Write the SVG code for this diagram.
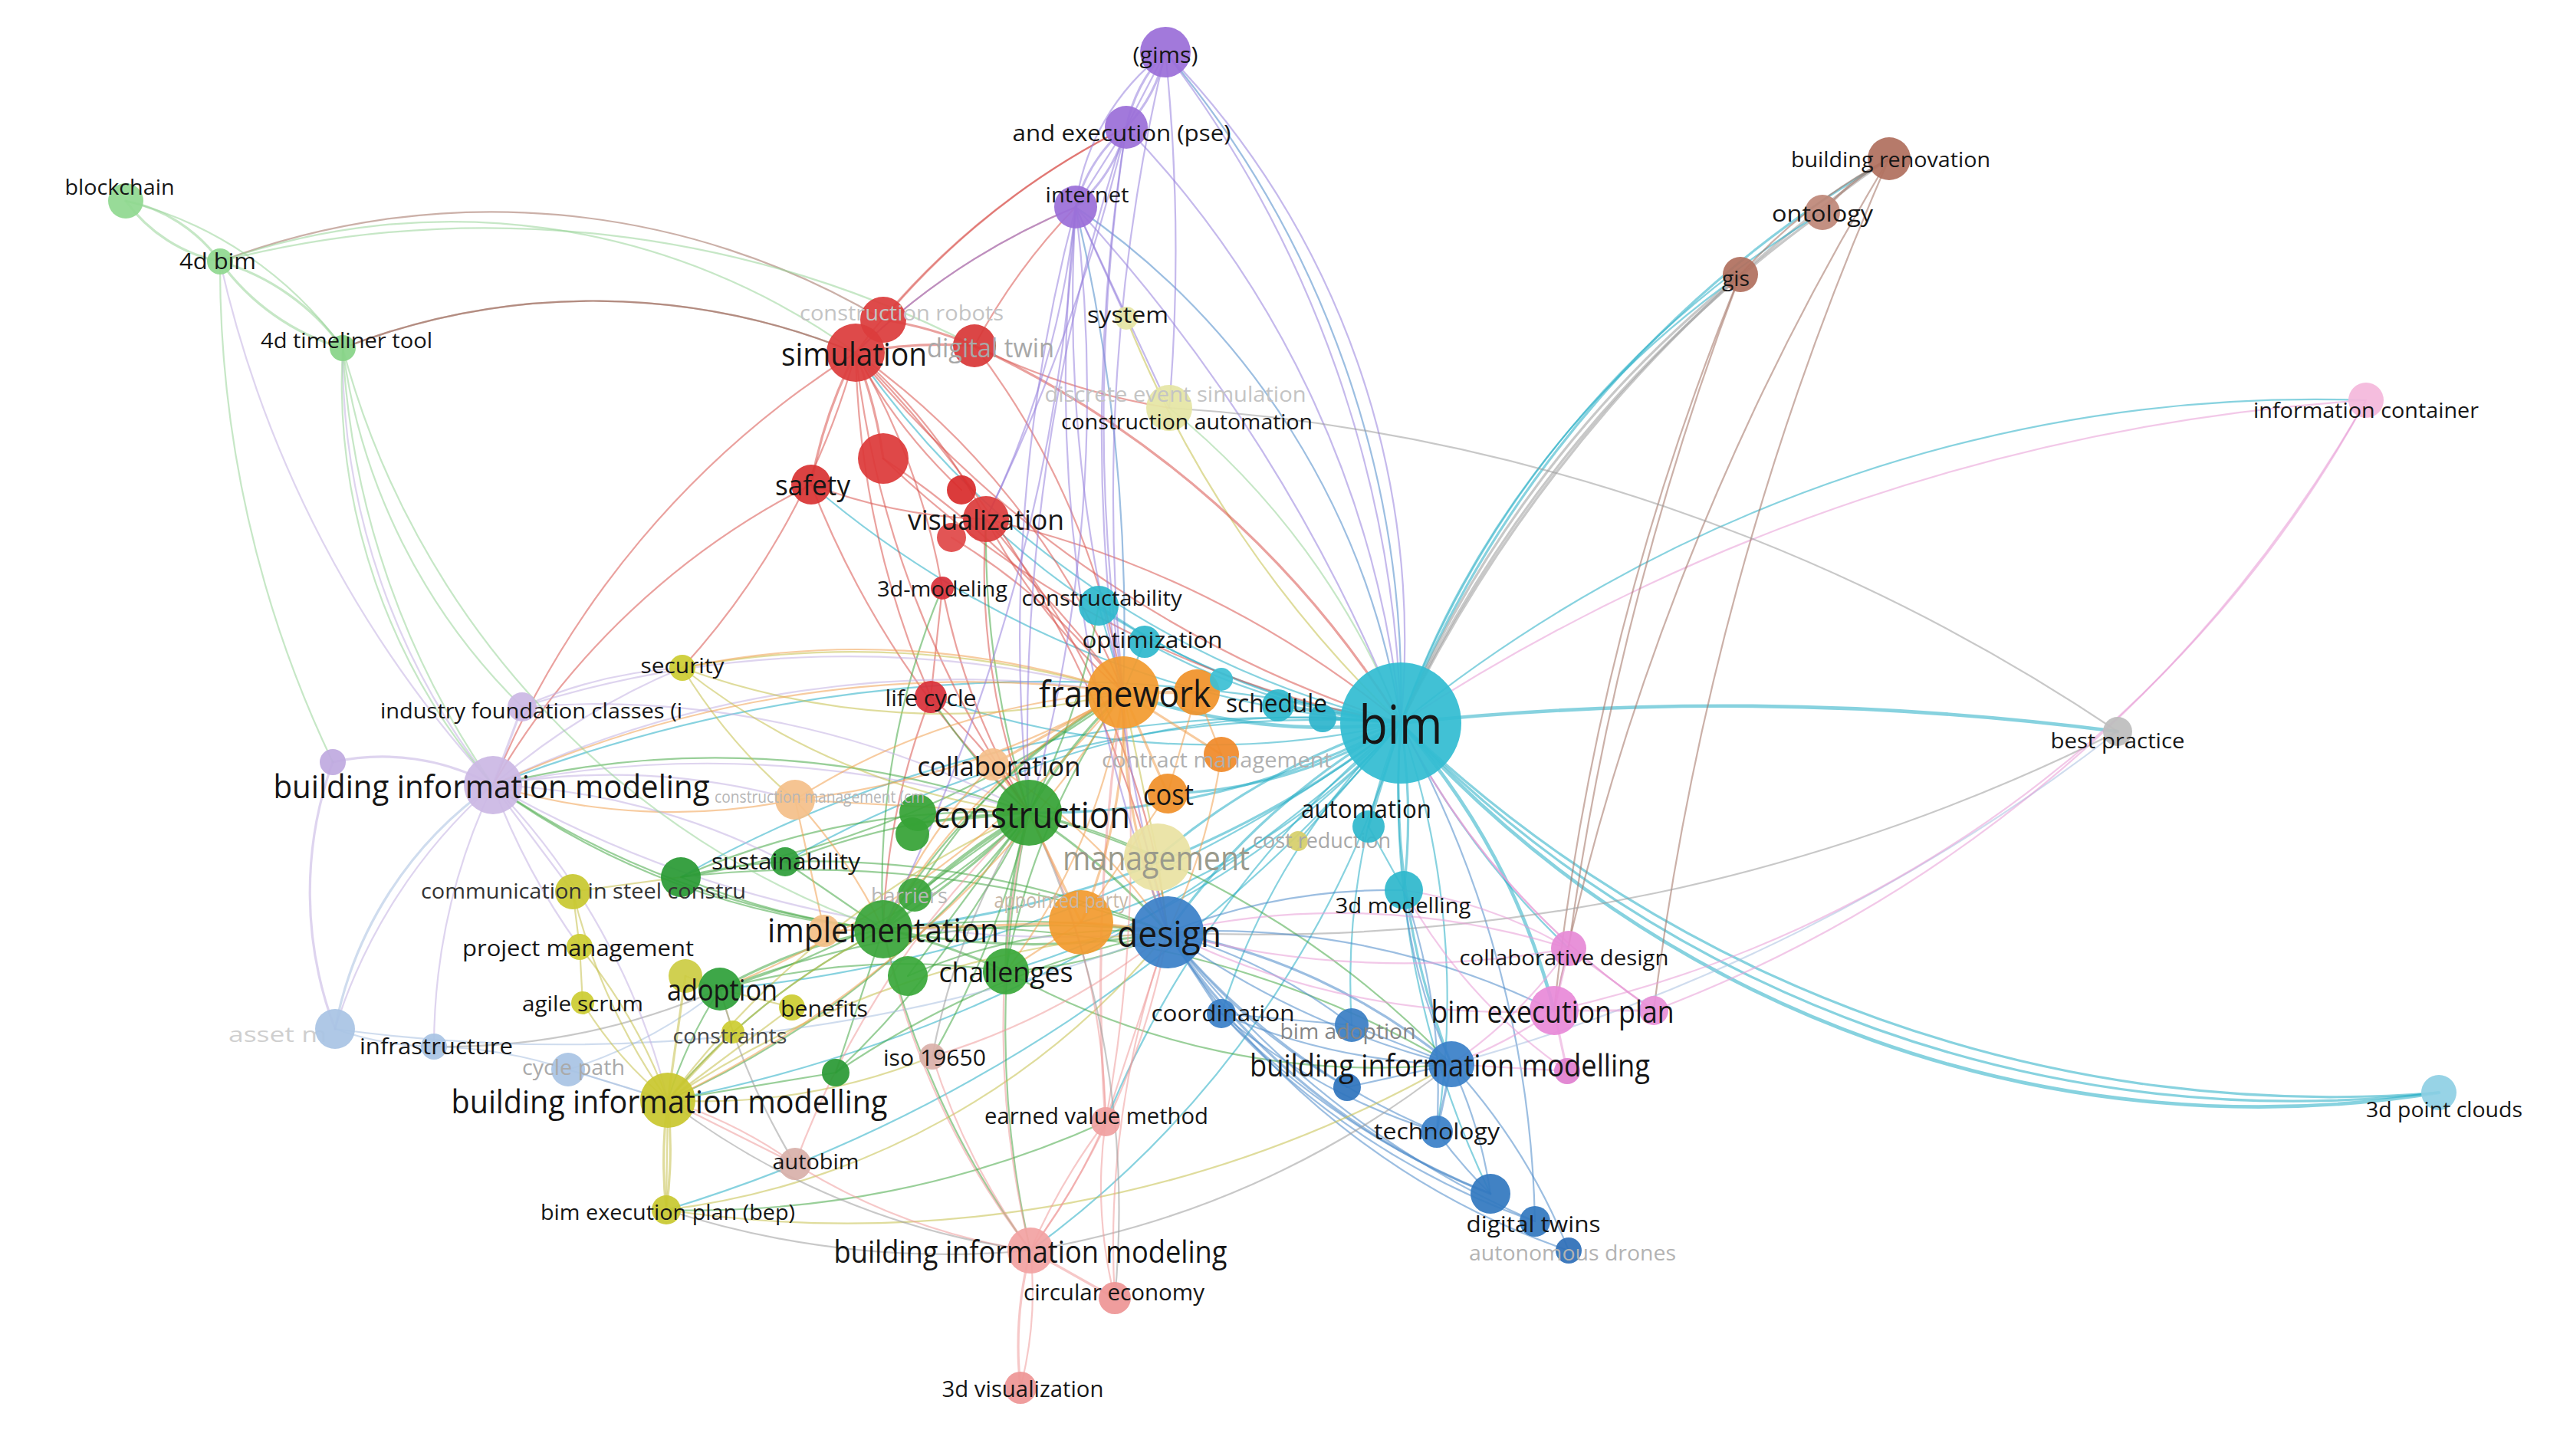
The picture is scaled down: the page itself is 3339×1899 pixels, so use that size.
<svg xmlns="http://www.w3.org/2000/svg" width="3339" height="1899" viewBox="0 0 3339 1899">
<style>
.e{fill:none;stroke-width:2.2;stroke-opacity:.55;stroke-linecap:round}
.w3{stroke-width:3.2}.w4{stroke-width:4.6}
.cy{stroke:#25adc4}.rd{stroke:#d9534f}.gr{stroke:#45a845}.pu{stroke:#9580dc}.bl{stroke:#4a88c8}.ye{stroke:#c4c04a}.or{stroke:#f0a050}.br{stroke:#a07060}.pk{stroke:#e79ad6}.lg{stroke:#98d498}.gy{stroke:#9a9a9a}.lb{stroke:#a8c0e0}.lp{stroke:#c2b0e2}.sa{stroke:#ee9a9a}
.t{font-family:"Open Sans","Noto Sans",sans-serif;text-anchor:middle;dominant-baseline:central;fill:#161616}
.f{fill:#b6b6b6}
circle{fill-opacity:.93}
</style>
<rect width="3339" height="1899" fill="#ffffff"/>
<g id="connectors">
<path class="e cy w3" d="M1827 943A1500 1500 0 0 1 2464 207"/>
<path class="e gy w3" d="M1827 943A1900 1900 0 0 1 2464 207"/>
<path class="e gy w3" d="M1827 943A1700 1700 0 0 1 2377 277"/>
<path class="e cy" d="M1827 943A1300 1300 0 0 1 2377 277"/>
<path class="e gy w3" d="M1827 943A1500 1500 0 0 1 2270 358"/>
<path class="e cy" d="M1827 943A1200 1200 0 0 1 2270 358"/>
<path class="e cy" d="M1827 943A1900 1900 0 0 1 3086 522"/>
<path class="e pk" d="M1827 943A2600 2600 0 0 1 3086 522"/>
<path class="e cy w4" d="M1827 943A4000 4000 0 0 1 2762 954"/>
<path class="e cy w4" d="M1827 943A1500 1500 0 0 0 3181 1425"/>
<path class="e cy w3" d="M1827 943A1620 1620 0 0 0 3181 1425"/>
<path class="e cy w3" d="M1827 943A1750 1750 0 0 0 3181 1425"/>
<path class="e pu" d="M1827 943A1100 1100 0 0 0 1520 68"/>
<path class="e bl" d="M1827 943A1300 1300 0 0 0 1520 68"/>
<path class="e pu" d="M1827 943A1500 1500 0 0 0 1520 68"/>
<path class="e pu" d="M1827 943A1300 1300 0 0 0 1469 166"/>
<path class="e bl" d="M1827 943A1000 1000 0 0 0 1403 270"/>
<path class="e pu" d="M1827 943A2200 2200 0 0 0 1403 270"/>
<path class="e cy" d="M1827 943A1200 1200 0 0 1 1116 460"/>
<path class="e rd" d="M1827 943A1500 1500 0 0 1 1116 460"/>
<path class="e lg" d="M1827 943A1000 1000 0 0 0 1525 532"/>
<path class="e ye" d="M1827 943A1500 1500 0 0 1 1469 415"/>
<path class="e cy w4" d="M1827 943A800 800 0 0 1 1465 903"/>
<path class="e cy w3" d="M1827 943A1000 1000 0 0 1 1342 1060"/>
<path class="e cy w3" d="M1827 943A900 900 0 0 0 1523 1216"/>
<path class="e cy w3" d="M1827 943A1300 1300 0 0 1 1152 1212"/>
<path class="e cy" d="M1827 943A2000 2000 0 0 0 643 1024"/>
<path class="e cy" d="M1827 943A1700 1700 0 0 1 939 1290"/>
<path class="e cy" d="M1827 943A1900 1900 0 0 1 871 1435"/>
<path class="e cy w3" d="M1827 943A900 900 0 0 0 1510 1118"/>
<path class="e cy" d="M1827 943A1100 1100 0 0 1 1312 1267"/>
<path class="e cy w3" d="M1827 943A600 600 0 0 1 1523 1035"/>
<path class="e cy w4" d="M1827 943L1667 920"/>
<path class="e cy w3" d="M1827 943L1725 937"/>
<path class="e cy w3" d="M1827 943L1785 1078"/>
<path class="e cy w3" d="M1827 943A800 800 0 0 1 1831 1161"/>
<path class="e cy w4" d="M1827 943A900 900 0 0 1 2027 1318"/>
<path class="e cy" d="M1827 943A1100 1100 0 0 0 2046 1237"/>
<path class="e cy w3" d="M1827 943A1000 1000 0 0 0 1893 1388"/>
<path class="e cy" d="M1827 943A1200 1200 0 0 0 1944 1557"/>
<path class="e cy" d="M1827 943A1100 1100 0 0 1 1874 1476"/>
<path class="e cy" d="M1827 943A900 900 0 0 0 1593 1322"/>
<path class="e cy" d="M1827 943A900 900 0 0 1 1433 790"/>
<path class="e cy" d="M1827 943A900 900 0 0 1 1493 837"/>
<path class="e cy" d="M1827 943A1000 1000 0 0 1 1286 677"/>
<path class="e cy" d="M1827 943A1300 1300 0 0 1 1344 1631"/>
<path class="e cy" d="M1827 943A1300 1300 0 0 0 1442 1463"/>
<path class="e cy" d="M1827 943A900 900 0 0 0 1763 1337"/>
<path class="e cy" d="M1827 943L1693 1097"/>
<path class="e cy" d="M1827 943A900 900 0 0 1 1410 1203"/>
<path class="e cy" d="M1827 943A1300 1300 0 0 1 1058 632"/>
<path class="e cy" d="M1827 943A1100 1100 0 0 1 1214 909"/>
<path class="e cy" d="M1827 943A1400 1400 0 0 0 1024 1124"/>
<path class="e cy" d="M1827 943A1600 1600 0 0 0 888 1144"/>
<path class="e cy" d="M1827 943A2000 2000 0 0 1 869 1578"/>
<path class="e rd" d="M1827 943A1300 1300 0 0 1 1152 598"/>
<path class="e pk" d="M1827 943A1000 1000 0 0 0 2157 1318"/>
<path class="e bl" d="M1827 943A1400 1400 0 0 1 2002 1593"/>
<path class="e cy" d="M1197 1073A1000 1000 0 0 1 1827 943"/>
<path class="e br w3" d="M2464 207A300 300 0 0 0 2377 277"/>
<path class="e br" d="M2464 207A700 700 0 0 0 2270 358"/>
<path class="e br" d="M2464 207A4000 4000 0 0 0 2157 1318"/>
<path class="e br" d="M2464 207A3500 3500 0 0 0 2027 1318"/>
<path class="e br" d="M2270 358A4000 4000 0 0 0 2046 1237"/>
<path class="e br" d="M2270 358A3500 3500 0 0 0 2027 1318"/>
<path class="e gy" d="M2762 954A2500 2500 0 0 0 1525 532"/>
<path class="e gy" d="M2762 954A2500 2500 0 0 1 1523 1216"/>
<path class="e lb" d="M2762 954A2500 2500 0 0 1 1893 1388"/>
<path class="e pk" d="M3086 522A1600 1600 0 0 1 2027 1318"/>
<path class="e pk" d="M3086 522A1800 1800 0 0 1 2157 1318"/>
<path class="e rd w3" d="M1116 460A600 600 0 0 0 1058 632"/>
<path class="e rd w3" d="M1116 460A600 600 0 0 1 1152 598"/>
<path class="e rd" d="M1116 460A700 700 0 0 1 1286 677"/>
<path class="e rd" d="M1116 460A700 700 0 0 0 1254 639"/>
<path class="e rd" d="M1116 460A1200 1200 0 0 0 1214 909"/>
<path class="e rd" d="M1116 460A900 900 0 0 1 1229 767"/>
<path class="e rd w3" d="M1116 460A600 600 0 0 1 1271 451"/>
<path class="e rd w3" d="M1152 417A500 500 0 0 1 1271 451"/>
<path class="e rd" d="M1116 460A1300 1300 0 0 0 1342 1060"/>
<path class="e rd" d="M1116 460A1500 1500 0 0 1 1523 1216"/>
<path class="e rd" d="M1116 460A1000 1000 0 0 1 1465 903"/>
<path class="e rd" d="M1116 460A1200 1200 0 0 0 643 1024"/>
<path class="e rd" d="M1116 460A1000 1000 0 0 1 890 871"/>
<path class="e rd" d="M1116 460A900 900 0 0 1 1403 270"/>
<path class="e rd" d="M1116 460A1000 1000 0 0 1 1469 166"/>
<path class="e rd" d="M1271 451A800 800 0 0 1 1403 270"/>
<path class="e rd" d="M1271 451A900 900 0 0 0 1525 532"/>
<path class="e rd" d="M1271 451A1000 1000 0 0 1 1465 903"/>
<path class="e rd w3" d="M1271 451A1300 1300 0 0 1 1827 943"/>
<path class="e rd" d="M1152 417A1000 1000 0 0 1 1469 166"/>
<path class="e rd" d="M1058 632A700 700 0 0 0 1286 677"/>
<path class="e rd" d="M1058 632A1000 1000 0 0 0 643 1024"/>
<path class="e rd" d="M1058 632A1200 1200 0 0 0 1342 1060"/>
<path class="e rd" d="M1152 598A1200 1200 0 0 1 1465 903"/>
<path class="e rd" d="M1286 677A800 800 0 0 0 1465 903"/>
<path class="e rd" d="M1286 677A900 900 0 0 0 1342 1060"/>
<path class="e rd" d="M1286 677A1300 1300 0 0 1 1827 943"/>
<path class="e rd" d="M1286 677A1000 1000 0 0 1 1523 1216"/>
<path class="e rd" d="M1229 767A900 900 0 0 0 1342 1060"/>
<path class="e rd" d="M1229 767L1214 909"/>
<path class="e rd" d="M1214 909A700 700 0 0 1 1342 1060"/>
<path class="e rd" d="M1214 909A900 900 0 0 0 1152 1212"/>
<path class="e rd" d="M1241 701A800 800 0 0 1 1465 903"/>
<path class="e br" d="M1116 460A900 900 0 0 0 447 454"/>
<path class="e br" d="M1152 417A1000 1000 0 0 0 287 341"/>
<path class="e lg" d="M1271 451A1400 1400 0 0 0 287 341"/>
<path class="e gr w4" d="M1342 1060A800 800 0 0 0 1152 1212"/>
<path class="e gr w3" d="M1342 1060A1100 1100 0 0 1 1152 1212"/>
<path class="e gr w3" d="M1342 1060A900 900 0 0 1 1523 1216"/>
<path class="e gr w3" d="M1342 1060A700 700 0 0 0 1312 1267"/>
<path class="e gr" d="M1342 1060A1000 1000 0 0 1 939 1290"/>
<path class="e gr w3" d="M1342 1060A700 700 0 0 1 1465 903"/>
<path class="e gr" d="M1342 1060A900 900 0 0 0 1024 1124"/>
<path class="e gr" d="M1342 1060A1200 1200 0 0 0 643 1024"/>
<path class="e gr" d="M1342 1060A1200 1200 0 0 1 871 1435"/>
<path class="e gr" d="M1342 1060A700 700 0 0 1 1214 909"/>
<path class="e gr" d="M1342 1060A1000 1000 0 0 0 888 1144"/>
<path class="e gr" d="M1342 1060A800 800 0 0 1 1510 1118"/>
<path class="e gr" d="M1342 1060A1200 1200 0 0 1 1893 1388"/>
<path class="e gr" d="M1342 1060A1300 1300 0 0 0 1344 1631"/>
<path class="e gr w3" d="M1342 1060L1197 1073"/>
<path class="e gr" d="M1342 1060L1193 1167"/>
<path class="e gr" d="M1342 1060L1184 1273"/>
<path class="e gr" d="M1342 1060A1200 1200 0 0 1 1216 1378"/>
<path class="e gr" d="M1342 1060A900 900 0 0 0 1433 790"/>
<path class="e gr" d="M1342 1060A1200 1200 0 0 1 1286 677"/>
<path class="e gr w3" d="M1152 1212A800 800 0 0 1 1312 1267"/>
<path class="e gr w3" d="M1152 1212A700 700 0 0 0 939 1290"/>
<path class="e gr w3" d="M1152 1212A1000 1000 0 0 0 1523 1216"/>
<path class="e gr" d="M1152 1212A1400 1400 0 0 1 1523 1216"/>
<path class="e gr" d="M1152 1212A1000 1000 0 0 1 643 1024"/>
<path class="e gr" d="M1152 1212A900 900 0 0 0 871 1435"/>
<path class="e gr" d="M1152 1212L1024 1124"/>
<path class="e gr" d="M1152 1212A900 900 0 0 1 888 1144"/>
<path class="e gr" d="M1152 1212A900 900 0 0 1 1465 903"/>
<path class="e gr" d="M1152 1212A1300 1300 0 0 1 1893 1388"/>
<path class="e gr" d="M1152 1212L1090 1399"/>
<path class="e gr" d="M1152 1212A1100 1100 0 0 0 1344 1631"/>
<path class="e gr" d="M939 1290A600 600 0 0 0 871 1435"/>
<path class="e gr" d="M939 1290A1200 1200 0 0 1 1523 1216"/>
<path class="e gr" d="M939 1290A900 900 0 0 1 1312 1267"/>
<path class="e gr" d="M1312 1267A600 600 0 0 0 1523 1216"/>
<path class="e gr" d="M1312 1267A900 900 0 0 1 1465 903"/>
<path class="e gr" d="M1312 1267A1000 1000 0 0 0 1893 1388"/>
<path class="e gr" d="M1024 1124A700 700 0 0 0 888 1144"/>
<path class="e gr" d="M1024 1124A1200 1200 0 0 1 1523 1216"/>
<path class="e gr" d="M888 1144A1400 1400 0 0 1 1523 1216"/>
<path class="e gr" d="M888 1144A1300 1300 0 0 0 1465 903"/>
<path class="e gr" d="M1090 1399A1200 1200 0 0 1 1523 1216"/>
<path class="e gr" d="M1090 1399A1200 1200 0 0 0 1342 1060"/>
<path class="e gr" d="M1184 1273A700 700 0 0 1 1523 1216"/>
<path class="e gr" d="M1193 1167A700 700 0 0 1 1465 903"/>
<path class="e gr" d="M1229 767A1000 1000 0 0 0 1152 1212"/>
<path class="e bl w3" d="M1523 1216A800 800 0 0 1 1893 1388"/>
<path class="e bl" d="M1523 1216A1100 1100 0 0 0 1893 1388"/>
<path class="e bl" d="M1523 1216A900 900 0 0 0 1874 1476"/>
<path class="e bl w3" d="M1523 1216A900 900 0 0 0 1944 1557"/>
<path class="e bl" d="M1523 1216A1200 1200 0 0 0 2002 1593"/>
<path class="e bl" d="M1523 1216A1000 1000 0 0 0 2046 1631"/>
<path class="e bl w3" d="M1523 1216L1593 1322"/>
<path class="e bl" d="M1523 1216A700 700 0 0 1 1763 1337"/>
<path class="e bl" d="M1523 1216A800 800 0 0 1 1831 1161"/>
<path class="e bl" d="M1523 1216A1000 1000 0 0 1 2027 1318"/>
<path class="e pk" d="M1523 1216A1000 1000 0 0 1 2046 1237"/>
<path class="e bl" d="M1523 1216A800 800 0 0 0 1757 1418"/>
<path class="e or w3" d="M1523 1216A800 800 0 0 1 1465 903"/>
<path class="e ye" d="M1523 1216L1510 1118"/>
<path class="e or w3" d="M1523 1216L1410 1203"/>
<path class="e bl w3" d="M1893 1388L1874 1476"/>
<path class="e bl" d="M1893 1388A600 600 0 0 1 1944 1557"/>
<path class="e bl" d="M1893 1388A800 800 0 0 1 2046 1631"/>
<path class="e bl" d="M1893 1388L1763 1337"/>
<path class="e pk" d="M1893 1388A600 600 0 0 0 2027 1318"/>
<path class="e pk" d="M1893 1388A600 600 0 0 0 2046 1237"/>
<path class="e bl" d="M1893 1388A700 700 0 0 1 1831 1161"/>
<path class="e bl" d="M1893 1388L1757 1418"/>
<path class="e bl" d="M1893 1388A800 800 0 0 1 1593 1322"/>
<path class="e bl" d="M1874 1476A600 600 0 0 0 1944 1557"/>
<path class="e bl" d="M1874 1476A800 800 0 0 1 1593 1322"/>
<path class="e bl" d="M1593 1322A1000 1000 0 0 0 1944 1557"/>
<path class="e bl" d="M1593 1322A1000 1000 0 0 0 2002 1593"/>
<path class="e bl" d="M1593 1322L1763 1337"/>
<path class="e bl" d="M1831 1161A800 800 0 0 1 1874 1476"/>
<path class="e cy" d="M1831 1161L1785 1078"/>
<path class="e pk" d="M1831 1161A700 700 0 0 0 2044 1397"/>
<path class="e lb w3" d="M437 1342A500 500 0 0 1 643 1024"/>
<path class="e lp" d="M437 1342A700 700 0 0 1 643 1024"/>
<path class="e lb" d="M437 1342A400 400 0 0 0 566 1365"/>
<path class="e lp" d="M566 1365A800 800 0 0 1 643 1024"/>
<path class="e lp w3" d="M434 994A500 500 0 0 0 437 1342"/>
<path class="e lp w3" d="M434 994A300 300 0 0 1 643 1024"/>
<path class="e lb" d="M566 1365A600 600 0 0 1 741 1395"/>
<path class="e lb" d="M741 1395A600 600 0 0 0 939 1290"/>
<path class="e gy" d="M566 1365A900 900 0 0 0 939 1290"/>
<path class="e lb" d="M741 1395L871 1435"/>
<path class="e lb" d="M437 1342A2200 2200 0 0 0 1523 1216"/>
<path class="e lp w3" d="M643 1024L681 922"/>
<path class="e lp" d="M643 1024A900 900 0 0 1 447 454"/>
<path class="e lg" d="M643 1024A1100 1100 0 0 1 447 454"/>
<path class="e lp" d="M643 1024A1500 1500 0 0 1 287 341"/>
<path class="e lg" d="M287 341A1500 1500 0 0 0 434 994"/>
<path class="e lp" d="M643 1024A900 900 0 0 1 890 871"/>
<path class="e or" d="M643 1024A800 800 0 0 0 1037 1043"/>
<path class="e lp" d="M643 1024A900 900 0 0 1 1037 1043"/>
<path class="e lp" d="M643 1024A1400 1400 0 0 1 1465 903"/>
<path class="e lp" d="M643 1024A1400 1400 0 0 1 1342 1060"/>
<path class="e gr" d="M643 1024A1100 1100 0 0 0 1152 1212"/>
<path class="e lp" d="M643 1024L747 1163"/>
<path class="e lp" d="M643 1024A900 900 0 0 0 756 1235"/>
<path class="e lp" d="M643 1024A900 900 0 0 1 871 1435"/>
<path class="e lp" d="M643 1024A900 900 0 0 1 1024 1124"/>
<path class="e lp" d="M643 1024A1500 1500 0 0 0 1523 1216"/>
<path class="e lp" d="M681 922A600 600 0 0 1 890 871"/>
<path class="e lg" d="M681 922A800 800 0 0 1 447 454"/>
<path class="e lp" d="M681 922A1200 1200 0 0 1 1342 1060"/>
<path class="e lp" d="M681 922A1400 1400 0 0 1 1465 903"/>
<path class="e ye w3" d="M871 1435A600 600 0 0 0 869 1578"/>
<path class="e ye w3" d="M871 1435A600 600 0 0 1 869 1578"/>
<path class="e ye" d="M871 1435L869 1578"/>
<path class="e sa" d="M871 1435A600 600 0 0 1 1037 1518"/>
<path class="e ye w3" d="M871 1435L894 1273"/>
<path class="e ye" d="M871 1435A500 500 0 0 1 760 1308"/>
<path class="e ye" d="M871 1435A700 700 0 0 0 756 1235"/>
<path class="e ye" d="M871 1435A800 800 0 0 1 747 1163"/>
<path class="e ye" d="M871 1435L956 1346"/>
<path class="e ye" d="M871 1435L1033 1314"/>
<path class="e ye" d="M871 1435A900 900 0 0 1 1152 1212"/>
<path class="e ye" d="M871 1435A1200 1200 0 0 1 1342 1060"/>
<path class="e ye" d="M871 1435A1300 1300 0 0 1 1523 1216"/>
<path class="e lb" d="M871 1435L741 1395"/>
<path class="e ye" d="M871 1435A800 800 0 0 0 1216 1378"/>
<path class="e gr" d="M871 1435L1090 1399"/>
<path class="e ye" d="M760 1308L756 1235"/>
<path class="e ye" d="M756 1235L747 1163"/>
<path class="e ye" d="M747 1163L888 1144"/>
<path class="e ye" d="M894 1273L939 1290"/>
<path class="e ye" d="M1033 1314L939 1290"/>
<path class="e ye" d="M956 1346L939 1290"/>
<path class="e ye" d="M869 1578A1000 1000 0 0 0 1523 1216"/>
<path class="e gr" d="M869 1578A1300 1300 0 0 0 1442 1463"/>
<path class="e ye" d="M869 1578A1600 1600 0 0 0 1893 1388"/>
<path class="e ye" d="M890 871A1000 1000 0 0 0 1465 903"/>
<path class="e ye" d="M890 871A1200 1200 0 0 1 1465 903"/>
<path class="e ye" d="M890 871A900 900 0 0 0 1342 1060"/>
<path class="e ye" d="M890 871A700 700 0 0 0 1037 1043"/>
<path class="e sa w3" d="M1344 1631A500 500 0 0 0 1331 1810"/>
<path class="e sa" d="M1344 1631A500 500 0 0 1 1331 1810"/>
<path class="e sa w3" d="M1344 1631L1454 1693"/>
<path class="e sa" d="M1344 1631A800 800 0 0 1 1442 1463"/>
<path class="e sa" d="M1344 1631A800 800 0 0 0 1442 1463"/>
<path class="e sa" d="M1344 1631A1200 1200 0 0 1 1342 1060"/>
<path class="e sa" d="M1344 1631A1000 1000 0 0 0 1523 1216"/>
<path class="e sa" d="M1344 1631A1000 1000 0 0 1 1152 1212"/>
<path class="e sa" d="M1344 1631A800 800 0 0 1 1037 1518"/>
<path class="e gy" d="M1344 1631A1000 1000 0 0 1 871 1435"/>
<path class="e sa" d="M1344 1631A900 900 0 0 1 1216 1378"/>
<path class="e gy" d="M1344 1631A1200 1200 0 0 0 1893 1388"/>
<path class="e gy" d="M1344 1631A1200 1200 0 0 1 869 1578"/>
<path class="e sa w3" d="M1442 1463A2500 2500 0 0 1 1465 903"/>
<path class="e sa" d="M1442 1463A2000 2000 0 0 0 1465 903"/>
<path class="e sa" d="M1442 1463A900 900 0 0 0 1342 1060"/>
<path class="e sa" d="M1442 1463L1523 1216"/>
<path class="e sa" d="M1454 1693A1200 1200 0 0 1 1523 1216"/>
<path class="e gy" d="M1454 1693A1200 1200 0 0 0 1342 1060"/>
<path class="e sa" d="M1454 1693A600 600 0 0 1 1442 1463"/>
<path class="e sa" d="M1037 1518L871 1435"/>
<path class="e gy" d="M1037 1518A900 900 0 0 1 939 1290"/>
<path class="e sa" d="M1037 1518A1200 1200 0 0 1 1342 1060"/>
<path class="e gy" d="M1216 1378A900 900 0 0 1 1342 1060"/>
<path class="e sa" d="M1216 1378A900 900 0 0 0 1523 1216"/>
<path class="e or w4" d="M1465 903L1561 903"/>
<path class="e or w3" d="M1465 903L1523 1035"/>
<path class="e or w3" d="M1465 903L1593 984"/>
<path class="e or" d="M1465 903A800 800 0 0 0 1152 1212"/>
<path class="e or w3" d="M1465 903A700 700 0 0 1 1410 1203"/>
<path class="e or w3" d="M1465 903L1295 997"/>
<path class="e or" d="M1465 903A900 900 0 0 0 1037 1043"/>
<path class="e or" d="M1465 903A1100 1100 0 0 1 1037 1043"/>
<path class="e or" d="M1465 903A1500 1500 0 0 0 643 1024"/>
<path class="e or" d="M1465 903A1100 1100 0 0 0 890 871"/>
<path class="e ye" d="M1465 903L1510 1118"/>
<path class="e or" d="M1465 903A800 800 0 0 1 1312 1267"/>
<path class="e or" d="M1465 903A1300 1300 0 0 1 939 1290"/>
<path class="e or" d="M1465 903A1400 1400 0 0 1 871 1435"/>
<path class="e cy" d="M1465 903L1433 790"/>
<path class="e cy" d="M1465 903L1493 837"/>
<path class="e or" d="M1561 903L1523 1035"/>
<path class="e or" d="M1561 903L1593 984"/>
<path class="e or" d="M1523 1035L1410 1203"/>
<path class="e or w3" d="M1410 1203L1152 1212"/>
<path class="e or" d="M1410 1203A800 800 0 0 1 1523 1216"/>
<path class="e or" d="M1410 1203L1312 1267"/>
<path class="e or w3" d="M1410 1203L1342 1060"/>
<path class="e or" d="M1037 1043L1342 1060"/>
<path class="e or" d="M1037 1043A700 700 0 0 1 1152 1212"/>
<path class="e or" d="M1037 1043L1075 1214"/>
<path class="e or" d="M1075 1214L1152 1212"/>
<path class="e or" d="M1295 997L1342 1060"/>
<path class="e or" d="M1295 997A700 700 0 0 0 1152 1212"/>
<path class="e or" d="M1295 997A800 800 0 0 1 1523 1216"/>
<path class="e or" d="M1593 984A800 800 0 0 1 1523 1216"/>
<path class="e pu w3" d="M1520 68A200 200 0 0 0 1469 166"/>
<path class="e pu w3" d="M1520 68A200 200 0 0 1 1469 166"/>
<path class="e pu" d="M1520 68L1469 166"/>
<path class="e pu w3" d="M1469 166A200 200 0 0 0 1403 270"/>
<path class="e pu w3" d="M1469 166A200 200 0 0 1 1403 270"/>
<path class="e pu" d="M1469 166L1403 270"/>
<path class="e pu" d="M1520 68A300 300 0 0 0 1403 270"/>
<path class="e pu" d="M1403 270A2000 2000 0 0 1 1342 1060"/>
<path class="e pu" d="M1403 270A2200 2200 0 0 0 1342 1060"/>
<path class="e pu" d="M1403 270A2000 2000 0 0 0 1465 903"/>
<path class="e bl" d="M1403 270A2400 2400 0 0 1 1465 903"/>
<path class="e pu" d="M1403 270A2000 2000 0 0 0 1523 1216"/>
<path class="e pu" d="M1403 270L1525 532"/>
<path class="e pu" d="M1403 270L1469 415"/>
<path class="e pu" d="M1403 270A1200 1200 0 0 1 1286 677"/>
<path class="e pu" d="M1403 270A900 900 0 0 0 1116 460"/>
<path class="e pu" d="M1403 270A2400 2400 0 0 1 1152 1212"/>
<path class="e pu" d="M1469 166A2500 2500 0 0 0 1465 903"/>
<path class="e pu" d="M1469 166A2500 2500 0 0 0 1342 1060"/>
<path class="e pu" d="M1469 166A2500 2500 0 0 0 1523 1216"/>
<path class="e pu" d="M1520 68A2500 2500 0 0 0 1465 903"/>
<path class="e pu" d="M1520 68A2500 2500 0 0 1 1525 532"/>
<path class="e pu" d="M1469 166A2500 2500 0 0 1 1286 677"/>
<path class="e pk w3" d="M2027 1318L2157 1318"/>
<path class="e pk w3" d="M2027 1318L2044 1397"/>
<path class="e pk w3" d="M2027 1318L2046 1237"/>
<path class="e pk" d="M2046 1237L2157 1318"/>
<path class="e pk" d="M2027 1318A1000 1000 0 0 1 1523 1216"/>
<path class="e pk" d="M2044 1397L1893 1388"/>
<path class="e pk" d="M2046 1237A600 600 0 0 0 1831 1161"/>
<path class="e pk" d="M2157 1318A1000 1000 0 0 1 1827 943"/>
<path class="e pk" d="M2046 1237A1200 1200 0 0 1 1523 1216"/>
<path class="e lg w3" d="M164 262A200 200 0 0 0 287 341"/>
<path class="e lg w3" d="M164 262A200 200 0 0 1 287 341"/>
<path class="e lg w3" d="M287 341A300 300 0 0 0 447 454"/>
<path class="e lg w3" d="M287 341A300 300 0 0 1 447 454"/>
<path class="e lg" d="M164 262A500 500 0 0 1 447 454"/>
<path class="e lg" d="M447 454A800 800 0 0 0 643 1024"/>
<path class="e lg" d="M287 341A900 900 0 0 1 1116 460"/>
<path class="e br" d="M447 454A900 900 0 0 1 1116 460"/>
<path class="e lg" d="M447 454A1100 1100 0 0 0 1152 1212"/>
</g>
<g id="nodes">
<g id="n-asset"><text class="t f" x="362" y="1348" font-size="28" textLength="128" lengthAdjust="spacingAndGlyphs" style="fill:#cfcfcf">asset m</text><circle cx="437" cy="1342" r="26" fill="#a9c4e4"/></g>
<g id="n-purple-small"><circle cx="434" cy="994" r="17" fill="#bfaae0"/></g>
<g id="n-construction-robots"><circle cx="1152" cy="417" r="30" fill="#dc3c3c"/><text class="t f" x="1176" y="407" font-size="28" textLength="266" lengthAdjust="spacingAndGlyphs" style="fill:#c4c4c4">construction robots</text></g>
<g id="n-digital-twin"><circle cx="1271" cy="451" r="28" fill="#d83838"/><text class="t f" x="1292" y="453" font-size="34" textLength="166" lengthAdjust="spacingAndGlyphs" style="fill:#a8a8a8">digital twin</text></g>
<g id="n-red-cluster"><circle cx="1152" cy="598" r="33" fill="#dd3a3a"/></g>
<g id="n-red3"><circle cx="1254" cy="639" r="19" fill="#d82c2c"/></g>
<g id="n-red2"><circle cx="1241" cy="701" r="19" fill="#e04848"/></g>
<g id="n-green-c1"><circle cx="1197" cy="1060" r="24" fill="#36a336"/><circle cx="1190" cy="1088" r="22" fill="#36a336"/></g>
<g id="n-green-c2"><circle cx="1184" cy="1273" r="26" fill="#3aa83a"/></g>
<g id="n-light-orange"><circle cx="1075" cy="1214" r="21" fill="#f4bf86"/></g>
<g id="n-construction-management"><circle cx="1037" cy="1043" r="26" fill="#f4c08a"/><text class="t f" x="932" y="1039" font-size="21" textLength="274" lengthAdjust="spacingAndGlyphs" style="text-anchor:start">construction management (cm</text></g>
<g id="n-barriers"><circle cx="1193" cy="1167" r="22" fill="#3aa53a"/><text class="t f" x="1186" y="1167" font-size="28" textLength="100" lengthAdjust="spacingAndGlyphs">barriers</text></g>
<g id="n-appointed-party"><circle cx="1410" cy="1203" r="42" fill="#f29b2f"/><text class="t f" x="1384" y="1173" font-size="28" textLength="175" lengthAdjust="spacingAndGlyphs" style="fill:#c8b8a8">appointed party</text></g>
<g id="n-management"><circle cx="1510" cy="1118" r="44" fill="#e9e2a2"/><text class="t" x="1508" y="1118" font-size="44" textLength="244" lengthAdjust="spacingAndGlyphs" style="fill:#9a9a8c">management</text></g>
<g id="n-cost-reduction"><circle cx="1693" cy="1097" r="13" fill="#d6cf6a"/><text class="t f" x="1724" y="1095" font-size="27" textLength="180" lengthAdjust="spacingAndGlyphs" style="fill:#a8a8a8">cost reduction</text></g>
<g id="n-contract-management"><circle cx="1593" cy="984" r="23" fill="#f08a2a"/><text class="t f" x="1587" y="990" font-size="28" textLength="300" lengthAdjust="spacingAndGlyphs" style="fill:#b0b0b0">contract management</text></g>
<g id="n-orange2"><circle cx="1561" cy="903" r="30" fill="#f0922a"/></g>
<g id="n-cyan-a"><circle cx="1593" cy="886" r="15" fill="#3cc0d4"/></g>
<g id="n-cyan-c"><circle cx="1725" cy="937" r="18" fill="#2fb5cc"/></g>
<g id="n-cycle-path"><circle cx="741" cy="1395" r="22" fill="#a9c4e4"/><text class="t f" x="748" y="1391" font-size="28" textLength="134" lengthAdjust="spacingAndGlyphs" style="fill:#aaaaaa">cycle path</text></g>
<g id="n-bim-adoption"><circle cx="1763" cy="1337" r="22" fill="#3a7ec4"/><text class="t" x="1758" y="1344" font-size="28" textLength="177" lengthAdjust="spacingAndGlyphs" style="fill:#858585">bim adoption</text></g>
<g id="n-autonomous-drones"><circle cx="2046" cy="1631" r="17" fill="#2e6fb8"/><text class="t f" x="2051" y="1633" font-size="28" textLength="270" lengthAdjust="spacingAndGlyphs" style="fill:#b3b3b3">autonomous drones</text></g>
<g id="n-green-small"><circle cx="1090" cy="1399" r="18" fill="#2a9a35"/></g>
<g id="n-blue-small"><circle cx="1757" cy="1418" r="18" fill="#2f74bd"/></g>
<g id="n-pink-right"><circle cx="2157" cy="1318" r="19" fill="#e890d8"/></g>
<g id="n-pink-below"><circle cx="2044" cy="1397" r="17" fill="#e080d0"/></g>
<g id="n-yellow-adoption"><circle cx="894" cy="1273" r="22" fill="#cccc44"/></g>
<g id="n-digital-twins-2"><circle cx="2002" cy="1593" r="20" fill="#3378c0"/></g>
<g id="n-construction-automation"><circle cx="1525" cy="532" r="30" fill="#e5e5a5"/><text class="t f" x="1533" y="513" font-size="28" textLength="341" lengthAdjust="spacingAndGlyphs" style="fill:#c4c4c4">discrete event simulation</text><text class="t" x="1548" y="549" font-size="28" textLength="328" lengthAdjust="spacingAndGlyphs">construction automation</text></g>
<g id="n-system"><circle cx="1469" cy="415" r="15" fill="#e5e5a5"/><text class="t" x="1471" y="409" font-size="30" textLength="106" lengthAdjust="spacingAndGlyphs">system</text></g>
<g id="n-internet"><circle cx="1403" cy="270" r="28" fill="#9b6fd8"/><text class="t" x="1418" y="253" font-size="28" textLength="109" lengthAdjust="spacingAndGlyphs">internet</text></g>
<g id="n-pse"><circle cx="1469" cy="166" r="28" fill="#9b6fd8"/><text class="t" x="1463" y="172" font-size="30" textLength="285" lengthAdjust="spacingAndGlyphs">and execution (pse)</text></g>
<g id="n-gims"><circle cx="1520" cy="68" r="33" fill="#9b6fd8"/><text class="t" x="1520" y="70" font-size="30" textLength="85" lengthAdjust="spacingAndGlyphs">(gims)</text></g>
<g id="n-blockchain"><circle cx="164" cy="262" r="23" fill="#90d890"/><text class="t" x="156" y="243" font-size="28" textLength="143" lengthAdjust="spacingAndGlyphs">blockchain</text></g>
<g id="n-4d-bim"><circle cx="287" cy="341" r="17" fill="#90d890"/><text class="t" x="284" y="339" font-size="30" textLength="100" lengthAdjust="spacingAndGlyphs">4d bim</text></g>
<g id="n-4d-timeliner-tool"><circle cx="447" cy="454" r="17" fill="#88d488"/><text class="t" x="452" y="443" font-size="28" textLength="224" lengthAdjust="spacingAndGlyphs">4d timeliner tool</text></g>
<g id="n-building-renovation"><circle cx="2464" cy="207" r="28" fill="#b0705f"/><text class="t" x="2466" y="207" font-size="28" textLength="260" lengthAdjust="spacingAndGlyphs">building renovation</text></g>
<g id="n-ontology"><circle cx="2377" cy="277" r="23" fill="#be8878"/><text class="t" x="2377" y="277" font-size="30" textLength="132" lengthAdjust="spacingAndGlyphs">ontology</text></g>
<g id="n-gis"><circle cx="2270" cy="358" r="23" fill="#b0705f"/><text class="t" x="2264" y="362" font-size="28" textLength="36" lengthAdjust="spacingAndGlyphs">gis</text></g>
<g id="n-information-container"><circle cx="3086" cy="522" r="23" fill="#f4b8dc"/><text class="t" x="3086" y="534" font-size="28" textLength="294" lengthAdjust="spacingAndGlyphs">information container</text></g>
<g id="n-best-practice"><circle cx="2762" cy="954" r="19" fill="#bdbdbd"/><text class="t" x="2762" y="965" font-size="28" textLength="175" lengthAdjust="spacingAndGlyphs">best practice</text></g>
<g id="n-3d-point-clouds"><circle cx="3181" cy="1425" r="23" fill="#8fd0e4"/><text class="t" x="3188" y="1446" font-size="28" textLength="204" lengthAdjust="spacingAndGlyphs">3d point clouds</text></g>
<g id="n-security"><circle cx="890" cy="871" r="17" fill="#cccc33"/><text class="t" x="890" y="867" font-size="28" textLength="109" lengthAdjust="spacingAndGlyphs">security</text></g>
<g id="n-ifc"><circle cx="681" cy="922" r="19" fill="#cbb8e4"/><text class="t" x="693" y="926" font-size="28" textLength="394" lengthAdjust="spacingAndGlyphs">industry foundation classes (i</text></g>
<g id="n-life-cycle"><circle cx="1214" cy="909" r="21" fill="#d8303a"/><text class="t" x="1214" y="909" font-size="30" textLength="119" lengthAdjust="spacingAndGlyphs">life cycle</text></g>
<g id="n-3d-modeling"><circle cx="1229" cy="767" r="15" fill="#d8303a"/><text class="t" x="1229" y="767" font-size="28" textLength="170" lengthAdjust="spacingAndGlyphs">3d-modeling</text></g>
<g id="n-constructability"><circle cx="1433" cy="790" r="26" fill="#2fb8cc"/><text class="t" x="1437" y="779" font-size="28" textLength="209" lengthAdjust="spacingAndGlyphs">constructability</text></g>
<g id="n-optimization"><circle cx="1493" cy="837" r="21" fill="#2fb8cc"/><text class="t" x="1503" y="833" font-size="30" textLength="183" lengthAdjust="spacingAndGlyphs">optimization</text></g>
<g id="n-schedule"><circle cx="1667" cy="920" r="21" fill="#2fb8cc"/><text class="t" x="1665" y="916" font-size="32" textLength="132" lengthAdjust="spacingAndGlyphs">schedule</text></g>
<g id="n-automation"><circle cx="1785" cy="1078" r="21" fill="#2fb8cc"/><text class="t" x="1782" y="1054" font-size="32" textLength="170" lengthAdjust="spacingAndGlyphs">automation</text></g>
<g id="n-3d-modelling"><circle cx="1831" cy="1161" r="25" fill="#2fb8cc"/><text class="t" x="1830" y="1180" font-size="28" textLength="177" lengthAdjust="spacingAndGlyphs">3d modelling</text></g>
<g id="n-cost"><circle cx="1523" cy="1035" r="26" fill="#f0902a"/><text class="t" x="1524" y="1035" font-size="38" textLength="66" lengthAdjust="spacingAndGlyphs">cost</text></g>
<g id="n-collaboration"><circle cx="1295" cy="997" r="21" fill="#f5c08c"/><text class="t" x="1303" y="999" font-size="34" textLength="213" lengthAdjust="spacingAndGlyphs">collaboration</text></g>
<g id="n-sustainability"><circle cx="1024" cy="1124" r="19" fill="#2e9e3a"/><text class="t" x="1025" y="1122" font-size="30" textLength="194" lengthAdjust="spacingAndGlyphs">sustainability</text></g>
<g id="n-communication"><circle cx="747" cy="1163" r="23" fill="#c8c830"/><circle cx="888" cy="1144" r="26" fill="#2a9a35"/><text class="t" x="761" y="1161" font-size="28" textLength="424" lengthAdjust="spacingAndGlyphs" style="fill:#333">communication in steel constru</text></g>
<g id="n-project-management"><circle cx="756" cy="1235" r="17" fill="#cccc33"/><text class="t" x="754" y="1235" font-size="30" textLength="302" lengthAdjust="spacingAndGlyphs">project management</text></g>
<g id="n-agile-scrum"><circle cx="760" cy="1308" r="15" fill="#cccc33"/><text class="t" x="760" y="1308" font-size="28" textLength="158" lengthAdjust="spacingAndGlyphs">agile scrum</text></g>
<g id="n-benefits"><circle cx="1033" cy="1314" r="17" fill="#cccc33"/><text class="t" x="1075" y="1314" font-size="30" textLength="114" lengthAdjust="spacingAndGlyphs">benefits</text></g>
<g id="n-constraints"><circle cx="956" cy="1346" r="15" fill="#cccc33"/><text class="t" x="952" y="1350" font-size="27" textLength="149" lengthAdjust="spacingAndGlyphs" style="fill:#484848">constraints</text></g>
<g id="n-iso-19650"><circle cx="1216" cy="1378" r="17" fill="#dab0aa"/><text class="t" x="1219" y="1378" font-size="30" textLength="134" lengthAdjust="spacingAndGlyphs">iso 19650</text></g>
<g id="n-autobim"><circle cx="1037" cy="1518" r="21" fill="#d8b0aa"/><text class="t" x="1064" y="1514" font-size="28" textLength="113" lengthAdjust="spacingAndGlyphs">autobim</text></g>
<g id="n-bep"><circle cx="869" cy="1578" r="19" fill="#c8c830"/><text class="t" x="871" y="1580" font-size="28" textLength="332" lengthAdjust="spacingAndGlyphs">bim execution plan (bep)</text></g>
<g id="n-infrastructure"><circle cx="566" cy="1365" r="17" fill="#a9c4e4"/><text class="t" x="569" y="1363" font-size="30" textLength="200" lengthAdjust="spacingAndGlyphs">infrastructure</text></g>
<g id="n-earned-value-method"><circle cx="1442" cy="1463" r="19" fill="#f0a0a0"/><text class="t" x="1430" y="1454" font-size="30" textLength="292" lengthAdjust="spacingAndGlyphs">earned value method</text></g>
<g id="n-circular-economy"><circle cx="1454" cy="1693" r="21" fill="#ee9696"/><text class="t" x="1453" y="1684" font-size="30" textLength="236" lengthAdjust="spacingAndGlyphs">circular economy</text></g>
<g id="n-3d-visualization"><circle cx="1331" cy="1810" r="21" fill="#ee9696"/><text class="t" x="1334" y="1810" font-size="30" textLength="211" lengthAdjust="spacingAndGlyphs">3d visualization</text></g>
<g id="n-coordination"><circle cx="1593" cy="1322" r="19" fill="#3a80c8"/><text class="t" x="1595" y="1320" font-size="30" textLength="187" lengthAdjust="spacingAndGlyphs">coordination</text></g>
<g id="n-technology"><circle cx="1874" cy="1476" r="21" fill="#3a80c8"/><text class="t" x="1874" y="1474" font-size="30" textLength="164" lengthAdjust="spacingAndGlyphs">technology</text></g>
<g id="n-digital-twins"><circle cx="1944" cy="1557" r="26" fill="#3378c0"/><text class="t" x="2000" y="1595" font-size="30" textLength="175" lengthAdjust="spacingAndGlyphs">digital twins</text></g>
<g id="n-collaborative-design"><circle cx="2046" cy="1237" r="23" fill="#e68ad6"/><text class="t" x="2040" y="1248" font-size="28" textLength="273" lengthAdjust="spacingAndGlyphs">collaborative design</text></g>
<g id="n-safety"><circle cx="1058" cy="632" r="26" fill="#d83434"/><text class="t" x="1060" y="632" font-size="36" textLength="98" lengthAdjust="spacingAndGlyphs">safety</text></g>
<g id="n-visualization"><circle cx="1286" cy="677" r="30" fill="#dc3c3c"/><text class="t" x="1286" y="677" font-size="36" textLength="204" lengthAdjust="spacingAndGlyphs">visualization</text></g>
<g id="n-challenges"><circle cx="1312" cy="1267" r="30" fill="#3aa83a"/><text class="t" x="1312" y="1267" font-size="36" textLength="175" lengthAdjust="spacingAndGlyphs">challenges</text></g>
<g id="n-adoption"><circle cx="939" cy="1290" r="28" fill="#2fa03a"/><text class="t" x="942" y="1290" font-size="38" textLength="144" lengthAdjust="spacingAndGlyphs">adoption</text></g>
<g id="n-bim-execution-plan"><circle cx="2027" cy="1318" r="32" fill="#e88ad8"/><text class="t" x="2025" y="1318" font-size="40" textLength="317" lengthAdjust="spacingAndGlyphs">bim execution plan</text></g>
<g id="n-bim-modelling-blue"><circle cx="1893" cy="1388" r="30" fill="#3a80c8"/><text class="t" x="1891" y="1388" font-size="40" textLength="522" lengthAdjust="spacingAndGlyphs">building information modelling</text></g>
<g id="n-bim-modeling-salmon"><circle cx="1344" cy="1631" r="30" fill="#f2a3a3"/><text class="t" x="1344" y="1631" font-size="40" textLength="513" lengthAdjust="spacingAndGlyphs">building information modeling</text></g>
<g id="n-bim-modelling-yellow"><circle cx="871" cy="1435" r="36" fill="#c9c72f"/><text class="t" x="873" y="1435" font-size="42" textLength="569" lengthAdjust="spacingAndGlyphs">building information modelling</text></g>
<g id="n-bim-modeling-purple"><circle cx="643" cy="1024" r="38" fill="#cbb8e4"/><text class="t" x="641" y="1024" font-size="42" textLength="569" lengthAdjust="spacingAndGlyphs">building information modeling</text></g>
<g id="n-simulation"><circle cx="1116" cy="460" r="38" fill="#dc3c3c"/><text class="t" x="1114" y="460" font-size="42" textLength="190" lengthAdjust="spacingAndGlyphs">simulation</text></g>
<g id="n-implementation"><circle cx="1152" cy="1212" r="38" fill="#3aa53a"/><text class="t" x="1152" y="1212" font-size="44" textLength="302" lengthAdjust="spacingAndGlyphs">implementation</text></g>
<g id="n-design"><circle cx="1523" cy="1216" r="47" fill="#3a80c8"/><text class="t" x="1525" y="1216" font-size="48" textLength="136" lengthAdjust="spacingAndGlyphs">design</text></g>
<g id="n-construction"><circle cx="1342" cy="1060" r="43" fill="#36a336"/><text class="t" x="1346" y="1061" font-size="48" textLength="256" lengthAdjust="spacingAndGlyphs">construction</text></g>
<g id="n-framework"><circle cx="1465" cy="903" r="47" fill="#f29b2f"/><text class="t" x="1467" y="903" font-size="48" textLength="224" lengthAdjust="spacingAndGlyphs">framework</text></g>
<g id="n-bim"><circle cx="1827" cy="943" r="79" fill="#33bcd2"/><text class="t" x="1827" y="943" font-size="70" textLength="109" lengthAdjust="spacingAndGlyphs">bim</text></g>
</g>
</svg>
